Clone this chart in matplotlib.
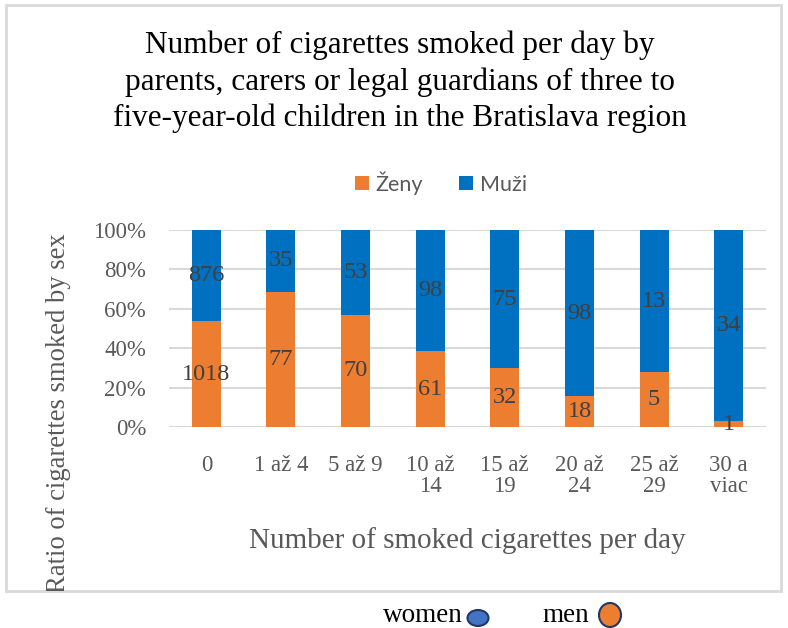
import numpy as np
import matplotlib
matplotlib.use('Agg')
import matplotlib.pyplot as plt
from matplotlib.patches import Rectangle, Ellipse

plt.rcParams['font.family'] = ['Liberation Serif', 'DejaVu Serif']

# data
categories = ['0', '1 až 4', '5 až 9', '10 až\n14', '15 až\n19', '20 až\n24', '25 až\n29', '30 a\nviac']
zeny = [1018, 77, 70, 61, 32, 18, 5, 1]
muzi = [876, 35, 53, 98, 75, 98, 13, 34]

W, H = 788, 628
ORANGE = '#ED7D31'
BLUE = '#0070C0'
GRAY = '#595959'

def fx(px):
    return px / W

def fy(py):
    return 1 - py / H

zeny_a = np.array(zeny, dtype=float)
muzi_a = np.array(muzi, dtype=float)
tot = zeny_a + muzi_a
r_z = zeny_a / tot
r_m = muzi_a / tot

fig = plt.figure(figsize=(W / 100, H / 100), dpi=100)
ax = fig.add_axes([fx(169), fy(427), fx(766) - fx(169), fy(230) - fy(427)])

x = np.arange(len(categories))
bw = 0.39
ax.bar(x, r_z, bw, color=ORANGE, label='Ženy', zorder=3)
ax.bar(x, r_m, bw, bottom=r_z, color=BLUE, label='Muži', zorder=3)

for i in range(len(x)):
    ax.text(x[i], r_z[i] / 2, str(zeny[i]), ha='center', va='center',
            fontsize=17.5, color='#404040', zorder=4)
    ax.text(x[i], r_z[i] + r_m[i] / 2, str(muzi[i]), ha='center', va='center',
            fontsize=17.5, color='#404040', zorder=4)

ax.set_xlim(-0.5, len(categories) - 0.5)
ax.set_ylim(0, 1)
ax.set_yticks(np.arange(0, 1.01, 0.2))
ax.set_yticklabels(['%d%%' % v for v in range(0, 101, 20)])
ax.set_xticks(x)
ax.set_xticklabels(categories, linespacing=1.0)
ax.tick_params(axis='both', length=0, labelsize=16.5, colors=GRAY)
ax.tick_params(axis='x', pad=20)
ax.tick_params(axis='y', pad=16.5)
ax.grid(axis='y', color='#D9D9D9', linewidth=1.5, zorder=0)
for s in ax.spines.values():
    s.set_visible(False)

# title
fig.text(fx(400), fy(82), 'Number of cigarettes smoked per day by\n'
         'parents, carers or legal guardians of three to\n'
         'five-year-old children in the Bratislava region',
         ha='center', va='center', fontsize=22.5, color='black', linespacing=1.3)

# legend on top
leg = ax.legend(loc='center', bbox_to_anchor=(fx(441), fy(183)), bbox_transform=fig.transFigure,
                ncol=2, frameon=False, handlelength=0.65, handleheight=0.65,
                handletextpad=0.3, columnspacing=1.7,
                prop={'family': ['Lato', 'DejaVu Sans'], 'size': 15.5})
for t in leg.get_texts():
    t.set_color(GRAY)

# axis labels
fig.text(fx(467), fy(541), 'Number of smoked cigarettes per day', ha='center', va='center',
         fontsize=21, color=GRAY)

frame = Rectangle((fx(6), fy(591)), fx(781) - fx(6), fy(5) - fy(591), transform=fig.transFigure,
                  fill=False, edgecolor='#D9D9D9', linewidth=2)
fig.patches.append(frame)

yl = fig.text(fx(59), fy(233), 'Ratio of cigarettes smoked by sex', rotation=90,
              ha='center', va='top', fontsize=19.2, color=GRAY)
yl.set_clip_path(frame)

# bottom legend
fig.text(fx(423), fy(615), 'women', ha='center', va='center', fontsize=19.5, color='black')
fig.text(fx(566), fy(615), 'men', ha='center', va='center', fontsize=19.5, color='black')
fig.patches.append(Ellipse((fx(478), fy(618)), fx(21), fy(0) - fy(16), transform=fig.transFigure,
                           facecolor='#4472C4', edgecolor='#1F3864', linewidth=1.5))
fig.patches.append(Ellipse((fx(610), fy(615)), fx(22), fy(0) - fy(24), transform=fig.transFigure,
                           facecolor=ORANGE, edgecolor='#1F3864', linewidth=1.5))

fig.savefig('out.png', dpi=100)
